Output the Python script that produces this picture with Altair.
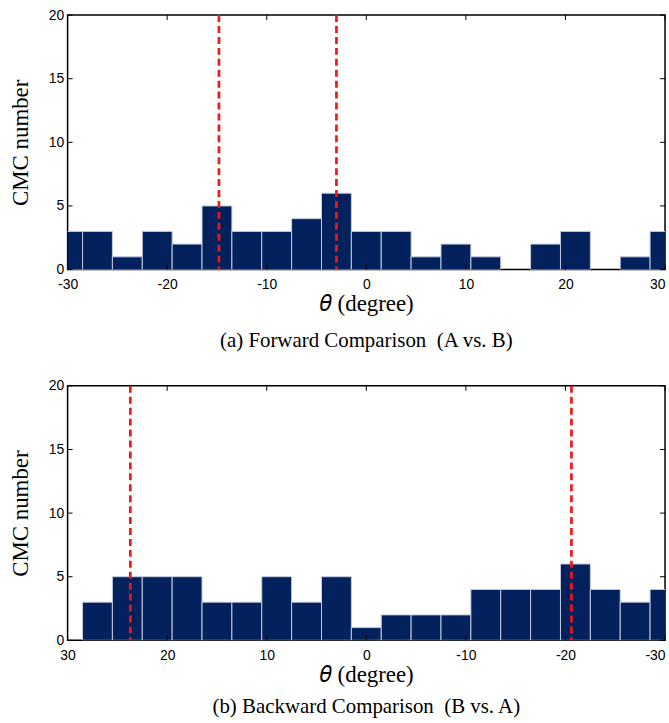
import altair as alt
import pandas as pd

# ---- data ----
centers = [-30, -27, -24, -21, -18, -15, -12, -9, -6, -3, 0, 3, 6, 9, 12, 15, 18, 21, 24, 27, 30]
fwd_counts = [3, 3, 1, 3, 2, 5, 3, 3, 4, 6, 3, 3, 1, 2, 1, 0, 2, 3, 0, 1, 3]
bwd_centers = [30, 27, 24, 21, 18, 15, 12, 9, 6, 3, 0, -3, -6, -9, -12, -15, -18, -21, -24, -27, -30]
bwd_counts = [0, 3, 5, 5, 5, 3, 3, 5, 3, 5, 1, 2, 2, 2, 4, 4, 4, 6, 4, 3, 4]
fwd_lines = [-14.8, -3.0]
bwd_lines = [23.7, -20.6]
bin_width = 3.0
x_ticks = [-30, -20, -10, 0, 10, 20, 30]
y_ticks = [0, 5, 10, 15, 20]
captions = ["(a) Forward Comparison\u00a0 (A vs. B)", "(b) Backward Comparison\u00a0 (B vs. A)"]

W, H = 601, 256
BAR = "#03215C"
EDGE = "#c3cbdc"
RED = "#f21616"
SERIF = "Liberation Serif"
SANS = "Liberation Sans"
HYPHEN = "datum.value < 0 ? '-' + abs(datum.value) : '' + datum.value"


def panel(cs, counts, lines, reverse, caption, cap_offset, title_pad):
    df = pd.DataFrame({"center": cs, "count": counts})
    df = df[df["count"] > 0].copy()
    df["lo"] = df["center"] - bin_width / 2
    df["hi"] = df["center"] + bin_width / 2
    df["base"] = 0
    end_val = 30 if not reverse else -30
    xscale = alt.Scale(domain=[-30, 30], nice=False, zero=False, reverse=reverse)
    yscale = alt.Scale(domain=[0, 20], nice=False)
    xaxis = alt.Axis(
        values=x_ticks, ticks=False, domain=False, grid=False, labelPadding=8,
        labelExpr=HYPHEN,
        labelAlign={"condition": {"test": f"datum.value == {end_val}", "value": "right"}, "value": "center"},
        title="\U0001D703 (degree)", titlePadding=title_pad,
    )
    yaxis = alt.Axis(
        values=y_ticks, ticks=False, domain=False, grid=False, labelPadding=4,
        title="CMC number", titlePadding=16,
    )
    bars = alt.Chart(df).mark_bar(color=BAR, stroke=EDGE, strokeWidth=1, clip=True).encode(
        x=alt.X("lo:Q", scale=xscale, axis=xaxis),
        x2="hi:Q",
        y=alt.Y("count:Q", scale=yscale, axis=yaxis),
        y2="base:Q",
    )
    ldf = pd.DataFrame({"v": lines})
    red = alt.Chart(ldf).mark_rule(color=RED, strokeWidth=2.7, strokeDash=[7, 4]).encode(
        x=alt.X("v:Q", scale=xscale),
        y=alt.value(0), y2=alt.value(H),
    )
    ydf = pd.DataFrame({"t": y_ticks})
    xdf = pd.DataFrame({"t": x_ticks})
    ytl = alt.Chart(ydf).mark_rule(color="black", strokeWidth=1).encode(
        y=alt.Y("t:Q", scale=yscale), x=alt.value(0), x2=alt.value(5))
    ytr = alt.Chart(ydf).mark_rule(color="black", strokeWidth=1).encode(
        y=alt.Y("t:Q", scale=yscale), x=alt.value(W - 5), x2=alt.value(W))
    xtt = alt.Chart(xdf).mark_rule(color="black", strokeWidth=1).encode(
        x=alt.X("t:Q", scale=xscale), y=alt.value(0), y2=alt.value(5))
    xtb = alt.Chart(xdf).mark_rule(color="black", strokeWidth=1).encode(
        x=alt.X("t:Q", scale=xscale), y=alt.value(H - 5), y2=alt.value(H))
    return alt.layer(bars, red, ytl, ytr, xtt, xtb).properties(
        width=W, height=H,
        title=alt.TitleParams(caption, orient="bottom", anchor="middle", font=SERIF,
                              fontSize=21, fontWeight="normal", color="black", offset=cap_offset),
    )


top = panel(centers, fwd_counts, fwd_lines, False, captions[0], 15, 1)
bottom = panel(bwd_centers, bwd_counts, bwd_lines, True, captions[1], 10, 1)

chart = alt.vconcat(top, bottom, spacing=26).properties(
    padding={"left": 8, "top": 5, "right": 2, "bottom": 5},
    background="white",
).configure_view(stroke="black", strokeWidth=1.5).configure_axis(
    labelFont=SANS, labelFontSize=14, labelColor="black", labelFontWeight="normal",
    titleFont=SERIF, titleFontSize=23, titleFontWeight="normal", titleColor="black",
)

chart.save("out.html", embed_options={"renderer": "svg", "actions": False})
